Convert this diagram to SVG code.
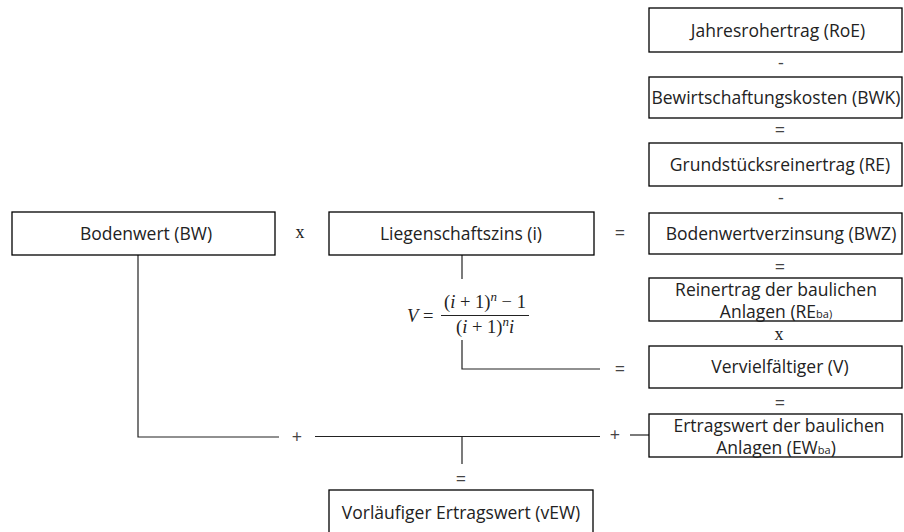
<svg xmlns="http://www.w3.org/2000/svg" width="904" height="532" viewBox="0 0 904 532">
  <style>
    .box { fill: #fff; stroke: #000; stroke-width: 1.3; }
    .lbl { font-family: "Open Sans", "Liberation Sans", sans-serif; font-size: 17.5px; fill: #222; text-anchor: middle; }
    .sub { font-size: 11px; }
    .op { font-family: "Open Sans", "Liberation Sans", sans-serif; font-size: 18px; fill: #444; text-anchor: middle; }
    .opx { font-family: "Liberation Serif", "DejaVu Serif", serif; font-size: 18px; fill: #222; text-anchor: middle; }
    .math { font-family: "Liberation Serif", "DejaVu Serif", serif; font-size: 18.5px; fill: #222; }
    .mi { font-style: italic; }
    .link { fill: none; stroke: #222; stroke-width: 1.2; }
  </style>

  <!-- connectors -->
  <g id="connectors">
    <path class="link" d="M462,255 V279"/>
    <path class="link" d="M462,340 V369 H600"/>
    <path class="link" d="M138,255 V437 H279"/>
    <path class="link" d="M315,436.5 H600"/>
    <path class="link" d="M630,435 H649"/>
    <path class="link" d="M462,437 V464"/>
  </g>

  <!-- operators -->
  <g id="operators">
    <text class="opx" x="300" y="238">x</text>
    <text class="op" x="620" y="239">=</text>
    <text class="op" x="620" y="375">=</text>
    <text class="op" x="297" y="443">+</text>
    <text class="op" x="615" y="441">+</text>
    <text class="op" x="461" y="485">=</text>
    <text class="op" x="781" y="69">-</text>
    <text class="op" x="780" y="136">=</text>
    <text class="op" x="781" y="204">-</text>
    <text class="op" x="780" y="273">=</text>
    <text class="opx" x="779" y="340">x</text>
    <text class="op" x="780" y="409">=</text>
  </g>

  <!-- left row -->
  <g id="bodenwert">
    <rect class="box" x="12" y="212" width="263" height="43"/>
    <text class="lbl" x="146" y="240">Bodenwert (BW)</text>
  </g>
  <g id="liegenschaftszins">
    <rect class="box" x="329" y="212" width="265" height="43"/>
    <text class="lbl" x="461" y="240">Liegenschaftszins (i)</text>
  </g>

  <!-- multiplier formula -->
  <g id="formel">
    <text class="math" x="407" y="322"><tspan class="mi">V</tspan> =</text>
    <text class="math" x="485" y="308" text-anchor="middle">(<tspan class="mi">i</tspan> + 1)<tspan class="mi" font-size="13" dy="-7">n</tspan><tspan dy="7"> − 1</tspan></text>
    <line x1="441" y1="315.5" x2="529" y2="315.5" stroke="#222" stroke-width="1"/>
    <text class="math" x="485" y="333" text-anchor="middle">(<tspan class="mi">i</tspan> + 1)<tspan class="mi" font-size="13" dy="-7">n</tspan><tspan class="mi" dy="7">i</tspan></text>
  </g>

  <!-- right column -->
  <g id="rohertrag">
    <rect class="box" x="649" y="8" width="253" height="44"/>
    <text class="lbl" x="778" y="37">Jahresrohertrag  (RoE)</text>
  </g>
  <g id="bewirtschaftungskosten">
    <rect class="box" x="649" y="77" width="253" height="41"/>
    <text class="lbl" x="776" y="104">Bewirtschaftungskosten (BWK)</text>
  </g>
  <g id="reinertrag">
    <rect class="box" x="649" y="143" width="253" height="43"/>
    <text class="lbl" x="780" y="171">Grundstücksreinertrag (RE)</text>
  </g>
  <g id="bodenwertverzinsung">
    <rect class="box" x="649" y="213" width="253" height="41"/>
    <text class="lbl" x="781" y="240">Bodenwertverzinsung (BWZ)</text>
  </g>
  <g id="reinertrag-ba">
    <rect class="box" x="649" y="278" width="253" height="43"/>
    <text class="lbl" x="776" y="296">Reinertrag der baulichen</text>
    <text class="lbl" x="776" y="318">Anlagen (RE<tspan class="sub">ba)</tspan></text>
  </g>
  <g id="vervielfaeltiger">
    <rect class="box" x="649" y="346" width="253" height="42"/>
    <text class="lbl" x="780" y="373">Vervielfältiger (V)</text>
  </g>
  <g id="ertragswert-ba">
    <rect class="box" x="649" y="414" width="253" height="43"/>
    <text class="lbl" x="779" y="432">Ertragswert der baulichen</text>
    <text class="lbl" x="776" y="454">Anlagen (EW<tspan class="sub">ba</tspan>)</text>
  </g>

  <!-- result -->
  <g id="vorlaeufiger-ertragswert">
    <rect class="box" x="329" y="490" width="264" height="50"/>
    <text class="lbl" x="461" y="519">Vorläufiger Ertragswert (vEW)</text>
  </g>
</svg>
